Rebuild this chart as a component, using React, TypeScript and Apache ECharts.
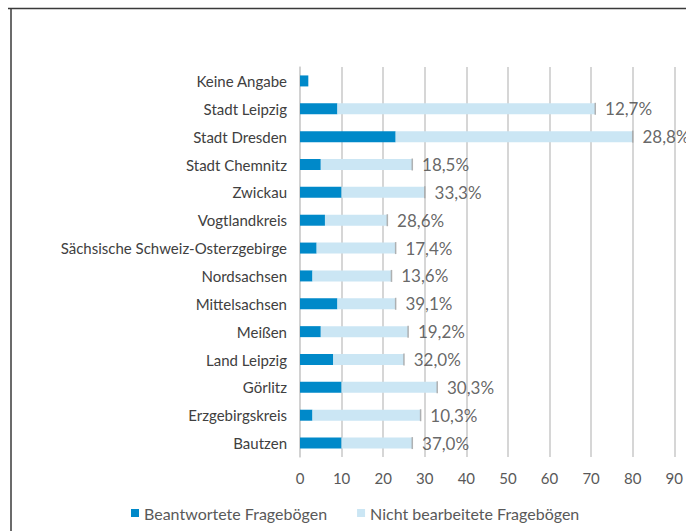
import React, { useEffect, useRef } from "react";
import * as echarts from "echarts";

const categories = [
  "Keine Angabe",
  "Stadt Leipzig",
  "Stadt Dresden",
  "Stadt Chemnitz",
  "Zwickau",
  "Vogtlandkreis",
  "Sächsische Schweiz-Osterzgebirge",
  "Nordsachsen",
  "Mittelsachsen",
  "Meißen",
  "Land Leipzig",
  "Görlitz",
  "Erzgebirgskreis",
  "Bautzen",
];
const answered = [2, 9, 23, 5, 10, 6, 4, 3, 9, 5, 8, 10, 3, 10];
const notProcessed = [0, 62, 57, 22, 20, 15, 19, 19, 14, 21, 17, 23, 26, 17];
const totals = [null, 71, 80, 27, 30, 21, 23, 22, 23, 26, 25, 33, 29, 27];
const percentLabels = ["", "12,7%", "28,8%", "18,5%", "33,3%", "28,6%", "17,4%", "13,6%", "39,1%", "19,2%", "32,0%", "30,3%", "10,3%", "37,0%"];
const xTicks = [0, 10, 20, 30, 40, 50, 60, 70, 80, 90];

const FONT = "Lato, 'Liberation Sans', sans-serif";

export default function App() {
  const ref = useRef<HTMLDivElement>(null);
  useEffect(() => {
    if (!ref.current) return;
    const chart = echarts.init(ref.current, undefined, { renderer: "svg" });
    chart.setOption({
      animation: false,
      backgroundColor: "#ffffff",
      textStyle: { fontFamily: FONT },
      grid: { left: 300, right: 8, top: 67, bottom: 74, containLabel: false },
      legend: {
        left: 126,
        top: 500,
        itemWidth: 8,
        itemHeight: 8,
        itemGap: 30,
        icon: "rect",
        textStyle: { fontSize: 16, color: "#595959", fontFamily: FONT },
        data: ["Beantwortete Fragebögen", "Nicht bearbeitete Fragebögen"],
      },
      xAxis: {
        type: "value",
        min: xTicks[0],
        max: xTicks[xTicks.length - 1],
        interval: 10,
        axisLine: { show: false },
        axisTick: { show: false },
        axisLabel: { color: "#595959", fontSize: 15, margin: 13, fontFamily: FONT },
        splitLine: { show: true, lineStyle: { color: "#c8c8c8", width: 1.5 } },
      },
      yAxis: {
        type: "category",
        data: categories,
        inverse: true,
        axisLine: { show: true, lineStyle: { color: "#d0d0d0", width: 1.5 } },
        axisTick: { show: false },
        axisLabel: { color: "#404040", fontSize: 15, margin: 13, fontFamily: FONT },
      },
      series: [
        {
          name: "Beantwortete Fragebögen",
          type: "bar",
          stack: "a",
          barWidth: 11,
          itemStyle: { color: "#0089c9" },
          data: answered,
        },
        {
          name: "Nicht bearbeitete Fragebögen",
          type: "bar",
          stack: "a",
          barWidth: 11,
          itemStyle: { color: "#cbe6f4" },
          data: notProcessed,
        },
        {
          name: "ticks",
          type: "scatter",
          symbol: "rect",
          symbolSize: [1.5, 12],
          itemStyle: { color: "#a0a0a0" },
          silent: true,
          data: totals.map((v, i) => [v, categories[i]]).filter((d) => d[0] !== null),
          label: {
            show: true,
            position: "right",
            distance: 9,
            color: "#404040",
            fontSize: 17,
            fontFamily: FONT,
            formatter: (p: any) => percentLabels[categories.indexOf(p.value[1])],
          },
        },
      ],
      graphic: [
        { type: "line", shape: { x1: 8, y1: 8.5, x2: 686, y2: 8.5 }, style: { stroke: "#3a3a3a", lineWidth: 1.5 } },
        { type: "line", shape: { x1: 11, y1: 8, x2: 11, y2: 531 }, style: { stroke: "#3a3a3a", lineWidth: 1.5 } },
      ],
    });
    return () => chart.dispose();
  }, []);
  return (
    <div
      ref={ref}
      style={{ position: "fixed", left: 0, top: 0, width: 686, height: 531 }}
    />
  );
}
